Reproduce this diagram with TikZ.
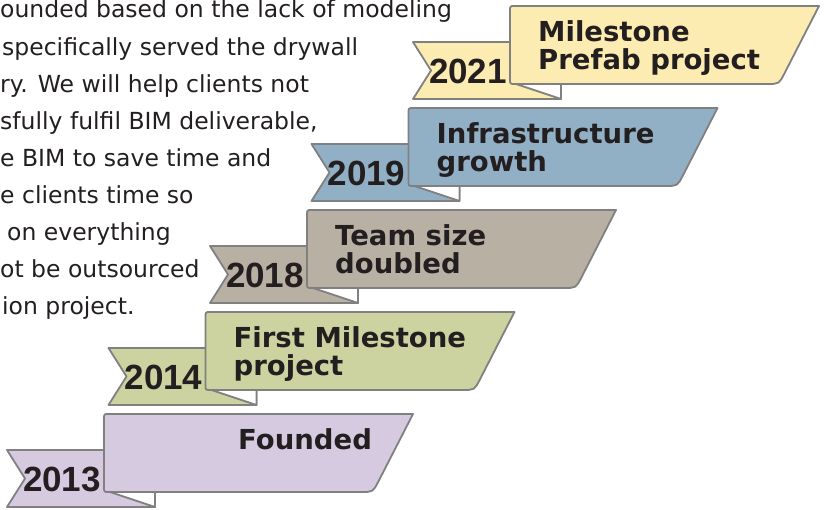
\documentclass[tikz,border=0pt]{standalone}
\usepackage{fontspec}
\setmainfont{DejaVu Sans}
\newfontfamily\yearfont{Liberation Sans}
\definecolor{ink}{HTML}{231F20}
\definecolor{rimgray}{HTML}{808080}
\definecolor{ribA}{HTML}{D6CAE1}
\definecolor{ribB}{HTML}{CCD2A0}
\definecolor{ribC}{HTML}{B9B0A4}
\definecolor{ribD}{HTML}{92B0C5}
\definecolor{ribE}{HTML}{FDECB2}
\begin{document}
\begin{tikzpicture}[x=1pt,y=1pt,line join=round,
  edge/.style={draw=rimgray, line width=1.8pt},
  yeartext/.style={font=\yearfont\bfseries\fontsize{35}{35}\selectfont, text=ink, inner sep=0pt, anchor=base},
  labeltext/.style={font=\bfseries\fontsize{27.5}{28}\selectfont, text=ink, inner sep=0pt, anchor=base west},
  bodytext/.style={font=\fontsize{23.5}{37}\selectfont, text=ink, inner sep=0pt, anchor=base west}]
\useasboundingbox (0,0) rectangle (826,510);

% body paragraph (as cut at the left edge)
\node[bodytext] (b1) at (0,492) {ounded based on the lack of modeling};
\node[bodytext] (b2) at (2,454.9) {specifically served the drywall};
\node[bodytext] (b3) at (0,417.75) {ry. We will help clients not};
\node[bodytext] (b4) at (0,380.6) {sfully fulfil BIM deliverable,};
\node[bodytext] (b5) at (0,343.5) {e BIM to save time and};
\node[bodytext] (b6) at (0,306.4) {e clients time so};
\node[bodytext] (b7) at (7,269.25) {on everything};
\node[bodytext] (b8) at (0,232.1) {ot be outsourced};
\node[bodytext] (b9) at (2,195) {ion project.};

% ribbons
\foreach \k/\yr/\col in {0/2013/ribA,1/2014/ribB,2/2018/ribC,3/2019/ribD,4/2021/ribE}{
  \begin{scope}[shift={(7+101.5*\k,3+102*\k)}]
    \draw[edge,fill=\col] (0,57) -- (148,57) -- (148,0) -- (0,0) -- (18,28.5) -- cycle;
    \draw[edge,fill=\col] (97,50) -- (97,88) .. controls (97,93) .. (102,93) -- (406,93)
      -- (371.5,25.7) .. controls (366,15) .. (354,15) -- (102,15) .. controls (97,15) .. (97,20) -- cycle;
    \draw[edge,fill=white] (103,15) -- (148,15) -- (148,0) -- cycle;
    \node[yeartext] (y\yr) at (55,15.5) {\yr};
  \end{scope}
}

\node[labeltext] (l2013) at (238,60) {Founded};
\node[labeltext] (l2014a) at (233.5,162.5) {First Milestone};
\node[labeltext] (l2014b) at (233.5,134.5) {project};
\node[labeltext] (l2018a) at (335,264.5) {Team size};
\node[labeltext] (l2018b) at (335,236.5) {doubled};
\node[labeltext] (l2019a) at (436.5,366.5) {Infrastructure};
\node[labeltext] (l2019b) at (436.5,338.5) {growth};
\node[labeltext] (l2021a) at (538,468.5) {Milestone};
\node[labeltext] (l2021b) at (538,440.5) {Prefab project};
\end{tikzpicture}
\end{document}
